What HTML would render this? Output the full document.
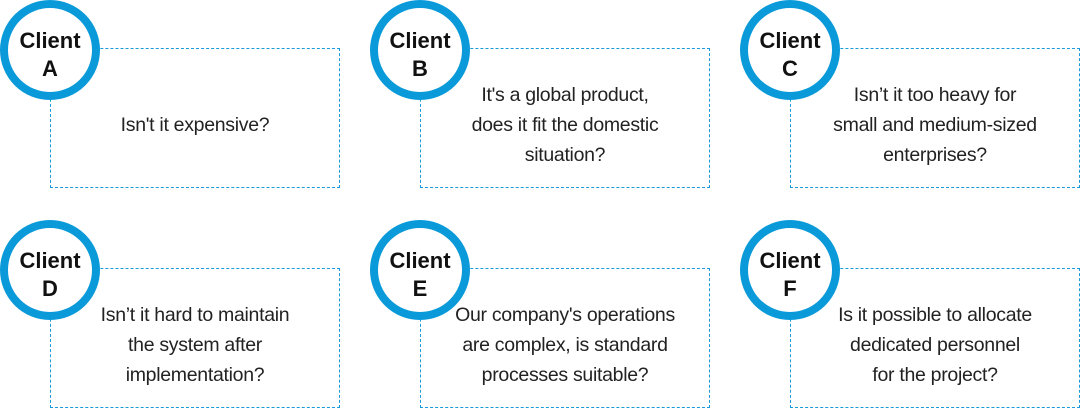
<!DOCTYPE html>
<html><head><style>
body{margin:0;width:1080px;height:409px;background:#fff;position:relative;overflow:hidden;font-family:"Liberation Sans",sans-serif;}
.box{position:absolute;width:290px;height:140px;border:1px dashed #1a9ad8;box-sizing:border-box;display:flex;align-items:center;justify-content:center;text-align:center;font-size:19.5px;line-height:30px;color:#222;padding-top:13px;letter-spacing:-0.3px;}
.c{position:absolute;width:100px;height:100px;border:8px solid #0a9ad9;border-radius:50%;box-sizing:border-box;background:#fff;display:flex;align-items:center;justify-content:center;text-align:center;font-weight:bold;font-size:22px;line-height:28px;color:#111;padding-top:9px;}
</style></head><body>
<div class="box" style="left:50px;top:48px">Isn't it expensive?</div>
<div class="box" style="left:420px;top:48px">It's a global product,<br>does it fit the domestic<br>situation?</div>
<div class="box" style="left:790px;top:48px">Isn’t it too heavy for<br>small and medium-sized<br>enterprises?</div>
<div class="box" style="left:50px;top:268px">Isn’t it hard to maintain<br>the system after<br>implementation?</div>
<div class="box" style="left:420px;top:268px">Our company's operations<br>are complex, is standard<br>processes suitable?</div>
<div class="box" style="left:790px;top:268px">Is it possible to allocate<br>dedicated personnel<br>for the project?</div>
<div class="c" style="left:0;top:0">Client<br>A</div>
<div class="c" style="left:370px;top:0">Client<br>B</div>
<div class="c" style="left:740px;top:0">Client<br>C</div>
<div class="c" style="left:0;top:220px">Client<br>D</div>
<div class="c" style="left:370px;top:220px">Client<br>E</div>
<div class="c" style="left:740px;top:220px">Client<br>F</div>
</body></html>
